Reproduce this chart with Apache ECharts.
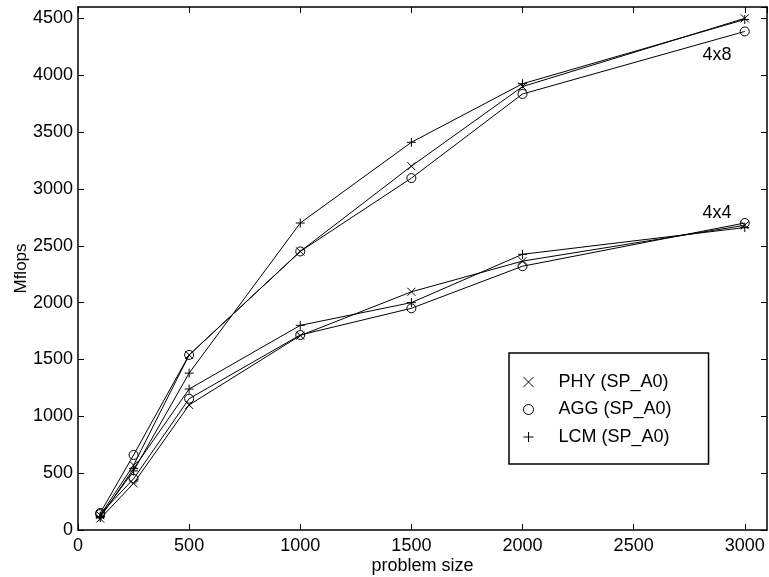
<!DOCTYPE html>
<html>
<head>
<meta charset="utf-8">
<script src="https://cdn.jsdelivr.net/npm/echarts@6/dist/echarts.min.js"></script>
<style>
  html, body { margin: 0; padding: 0; background: #fff; }
  #chart { width: 769px; height: 577px; }
</style>
</head>
<body>
<div id="chart"></div>
<script>
const problemSizes = [100, 250, 500, 1000, 1500, 2000, 3000];

// 4x8 configuration
const phy4x8 = [130, 570, 1540, 2450, 3200, 3900, 4500];
const agg4x8 = [150, 660, 1540, 2450, 3095, 3835, 4385];
const lcm4x8 = [120, 520, 1380, 2700, 3410, 3925, 4490];

// 4x4 configuration
const phy4x4 = [100, 410, 1100, 1710, 2095, 2365, 2680];
const agg4x4 = [140, 450, 1155, 1715, 1950, 2320, 2700];
const lcm4x4 = [110, 540, 1240, 1800, 2000, 2425, 2660];

const PHY = "PHY (SP_A0)";
const AGG = "AGG (SP_A0)";
const LCM = "LCM (SP_A0)";

// curve labels: [text, x, y]
const curveLabels = [["4x8", 2875, 4180], ["4x4", 2875, 2786]];

const CROSS = "path://M0,0L10,10M10,0L0,10";
const PLUS = "path://M5,0L5,10M0,5L10,5";

const FONT = "Liberation Sans";

const pairs = (vals) => problemSizes.map((x, i) => [x, vals[i]]);

function makeSeries(name, vals, symbol, size, extra) {
  return Object.assign({
    name,
    type: "line",
    data: pairs(vals),
    symbol,
    symbolSize: size,
    showAllSymbol: true,
    lineStyle: { color: "#000", width: 1 },
    itemStyle: { color: "none", borderColor: "#000", borderWidth: 1 },
    emphasis: { disabled: true },
    z: 3,
  }, extra || {});
}

function curveMark(label) {
  return {
    markPoint: {
      symbol: "rect",
      symbolSize: 1,
      itemStyle: { color: "rgba(0,0,0,0)" },
      data: [{ coord: [label[1], label[2]] }],
      label: {
        show: true,
        position: "inside",
        formatter: label[0],
        color: "#000",
        fontSize: 18,
        fontFamily: FONT,
      },
    },
  };
}

const chart = echarts.init(document.getElementById("chart"), null, { renderer: "canvas" });

const axisCommon = {
  type: "value",
  axisLine: { show: true, onZero: false, lineStyle: { color: "#000", width: 1.5 } },
  axisTick: { show: true, inside: true, length: 6, lineStyle: { color: "#000" } },
  splitLine: { show: false },
};

const plain = (v) => String(v);

chart.setOption({
  animation: false,
  backgroundColor: "#fff",
  textStyle: { fontFamily: FONT },
  grid: { left: 78, right: 2, top: 7, bottom: 47, outerBoundsMode: "none", containLabel: false },
  xAxis: [
    Object.assign({}, axisCommon, {
      min: 0, max: 3100, interval: 500,
      name: "problem size",
      nameLocation: "middle",
      nameGap: 27,
      nameMoveOverlap: false,
      nameTextStyle: { color: "#000", fontSize: 18, fontFamily: FONT },
      axisLabel: { color: "#000", fontSize: 18, fontFamily: FONT, margin: 7, showMaxLabel: false, formatter: plain },
    }),
    Object.assign({}, axisCommon, {
      position: "top",
      min: 0, max: 3100, interval: 500,
      axisLabel: { show: false },
    }),
  ],
  yAxis: [
    Object.assign({}, axisCommon, {
      min: 0, max: 4600, interval: 500,
      name: "Mflops",
      nameLocation: "middle",
      nameGap: 48,
      nameMoveOverlap: false,
      nameTextStyle: { color: "#000", fontSize: 17, fontFamily: FONT },
      axisLabel: { color: "#000", fontSize: 18, fontFamily: FONT, margin: 5, showMaxLabel: false, formatter: plain },
    }),
    Object.assign({}, axisCommon, {
      position: "right",
      min: 0, max: 4600, interval: 500,
      axisLabel: { show: false },
    }),
  ],
  legend: {
    orient: "vertical",
    left: 509,
    top: 353,
    padding: [20, 37, 18, 12],
    itemGap: 9.5,
    itemWidth: 10,
    itemHeight: 10,
    borderColor: "#000",
    borderWidth: 1.5,
    backgroundColor: "#fff",
    textStyle: { color: "#000", fontSize: 18, fontFamily: FONT, padding: [0, 0, 0, 20] },
    itemStyle: { color: "none", borderColor: "#000", borderWidth: 1 },
    data: [
      { name: PHY, icon: CROSS },
      { name: AGG, icon: "circle" },
      { name: LCM, icon: PLUS },
    ],
  },
  series: [
    makeSeries(PHY, phy4x8, CROSS, 8, curveMark(curveLabels[0])),
    makeSeries(AGG, agg4x8, "circle", 9),
    makeSeries(LCM, lcm4x8, PLUS, 9),
    makeSeries(PHY, phy4x4, CROSS, 8, curveMark(curveLabels[1])),
    makeSeries(AGG, agg4x4, "circle", 9),
    makeSeries(LCM, lcm4x4, PLUS, 9),
  ],
});
</script>
</body>
</html>
